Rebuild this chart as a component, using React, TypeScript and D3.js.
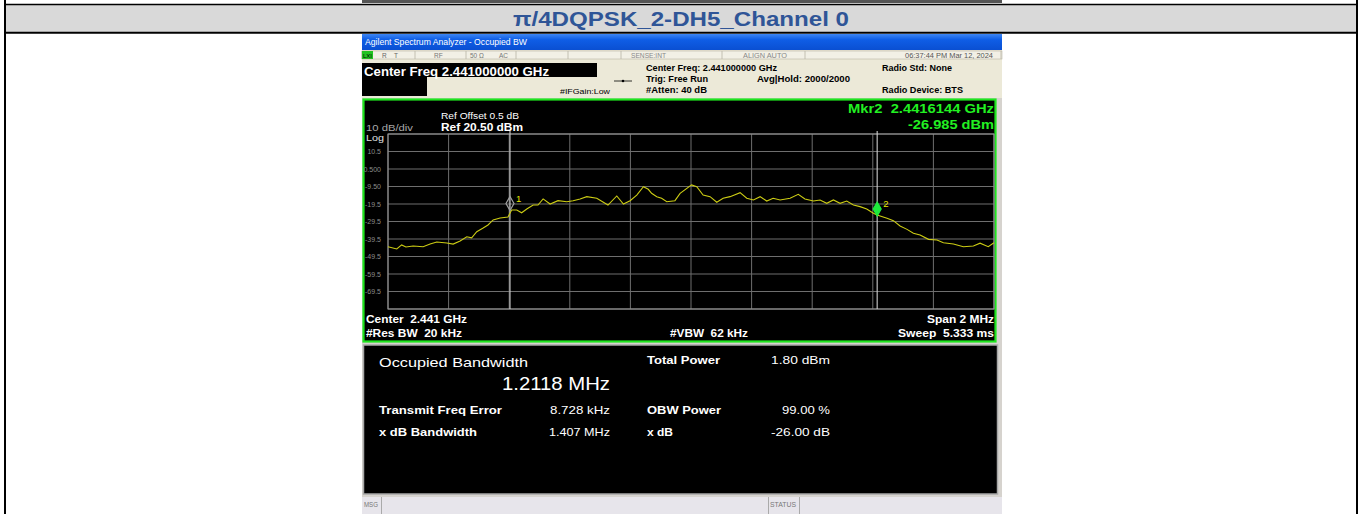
import React, { useEffect } from "react"
import * as d3 from "d3"

// trace: offset from centre (MHz) and level (dBm)
const traceOffsetMHz = [
  -1.0, -0.971, -0.955, -0.941, -0.917, -0.884, -0.861, -0.839, -0.806, -0.785, -0.762, -0.74, -0.724, -0.707,
  -0.686, -0.67, -0.653, -0.63, -0.604, -0.592, -0.575, -0.559, -0.542, -0.521, -0.505, -0.488, -0.465, -0.439,
  -0.41, -0.389, -0.366, -0.344, -0.311, -0.274, -0.245, -0.223, -0.201, -0.179, -0.157, -0.141, -0.13, -0.113,
  -0.097, -0.08, -0.053, -0.036, 0.002, 0.019, 0.04, 0.063, 0.085, 0.106, 0.129, 0.162, 0.184, 0.206, 0.228, 0.25,
  0.271, 0.294, 0.327, 0.354, 0.376, 0.404, 0.426, 0.448, 0.47, 0.492, 0.514, 0.536, 0.558, 0.58, 0.602, 0.614,
  0.647, 0.668, 0.69, 0.713, 0.734, 0.756, 0.784, 0.812, 0.833, 0.866, 0.899, 0.932, 0.954, 0.981, 1.0,
]
const traceLevelDbm = [
  -43.9, -45.2, -42.9, -44.1, -43.5, -43.9, -42.4, -41.2, -41.8, -42.4, -40.6, -38.2, -38.8, -35.3,
  -33.2, -31.5, -28.6, -27.5, -26.9, -22.9, -22.9, -24.5, -22.4, -20.1, -20.1, -16.6, -19.5, -17.6,
  -18.2, -17.6, -16.6, -15.3, -16.2, -20.1, -14.9, -19.5, -17.6, -14.4, -9.6, -11.1, -13.4, -15.3,
  -16.2, -18.2, -17.6, -13.4, -8.6, -9.6, -14.4, -15.3, -18.5, -16.2, -15.3, -13.0, -16.2, -17.2, -15.3, -17.8,
  -16.2, -17.2, -16.2, -14.0, -16.6, -17.8, -17.2, -19.1, -17.2, -19.1, -17.8, -20.1, -21.0, -22.4, -24.8, -25.8,
  -27.7, -29.0, -32.1, -34.0, -36.2, -37.2, -39.7, -40.1, -41.6, -42.4, -43.9, -43.5, -41.9, -43.9, -41.6,
]

const yTickValues = [10.5, 0.5, -9.5, -19.5, -29.5, -39.5, -49.5, -59.5, -69.5]
const yTickLabels = ["10.5", "0.500", "-9.50", "-19.5", "-29.5", "-39.5", "-49.5", "-59.5", "-69.5"]

const markerNames = ["1", "2"]
const markerOffsetMHz = [-0.5974, 0.6144]
const markerLevelDbm = [-23.8, -26.985]

const refLevel = 20.5
const dbPerDiv = 10

type Txt = {
  t: string
  x: number
  y: number
  size: number
  fill: string
  weight?: number | string
  anchor?: "start" | "end" | "middle"
  w?: number
}

const T = ({ t, x, y, size, fill, weight = "normal", anchor = "start", w }: Txt) => (
  <text
    x={x}
    y={y}
    fontSize={size}
    fill={fill}
    fontWeight={weight}
    textAnchor={anchor}
    fontFamily="'Liberation Sans', Arial, sans-serif"
    style={{ whiteSpace: "pre" }}
    {...(w ? { textLength: w, lengthAdjust: "spacingAndGlyphs" } : {})}
  >
    {t}
  </text>
)

const App: React.FC = () => {
  useEffect(() => {
    document.body.style.margin = "0"
    document.body.style.overflow = "hidden"
  }, [])

  // graticule
  const x = d3.scaleLinear().domain([-1, 1]).range([388, 994])
  const y = d3
    .scaleLinear()
    .domain([refLevel - dbPerDiv * 10, refLevel])
    .range([309, 134])

  const xGrid = x.ticks(10)
  const yGrid = d3.range(0, 11).map((i) => refLevel - i * dbPerDiv)

  const line = d3
    .line<number>()
    .x((_, i) => x(traceOffsetMHz[i]))
    .y((d) => y(d))

  const statusCells = [362, 415, 466, 516, 568, 621, 722, 805, 1001]

  return (
    <svg width={1362} height={514} style={{ position: "absolute", left: 0, top: 0, background: "#fff" }}>
      <defs>
        <linearGradient id="bluebar" x1="0" y1="0" x2="0" y2="1">
          <stop offset="0" stopColor="#3d86f2" />
          <stop offset="0.35" stopColor="#0f5ee6" />
          <stop offset="1" stopColor="#0a4fd2" />
        </linearGradient>
      </defs>

      {/* table frame */}
      <rect x={362} y={0} width={640} height={3} fill="#555" />
      <rect x={6} y={5} width={1350} height={27} fill="#d9d9d9" />
      <line x1={5} x2={1357} y1={4.5} y2={4.5} stroke="#000" strokeWidth={1.5} />
      <line x1={5} x2={1357} y1={32.8} y2={32.8} stroke="#000" strokeWidth={2} />
      <line x1={5} x2={5} y1={0} y2={514} stroke="#000" strokeWidth={2} />
      <line x1={1357} x2={1357} y1={0} y2={514} stroke="#000" strokeWidth={2} />
      <T t="π/4DQPSK_2-DH5_Channel 0" x={681} y={26} size={21} fill="#2f5597" weight="bold" anchor="middle" w={336} />

      {/* analyzer screenshot */}
      <rect x={362} y={34} width={640} height={480} fill="#d6d3ce" />
      <rect x={362} y={34} width={640} height={16} fill="url(#bluebar)" />
      <T t="Agilent Spectrum Analyzer - Occupied BW" x={365} y={45} size={8.5} fill="#fff" w={162} />

      <rect x={362} y={50} width={640} height={48} fill="#ece9d8" />
      <rect x={362} y={51} width={640} height={8} fill="#f2f0e6" stroke="#b8b4a4" strokeWidth={0.6} />
      {statusCells.map((cx) => (
        <line key={cx} x1={cx} x2={cx} y1={51} y2={59} stroke="#b8b4a4" strokeWidth={0.8} />
      ))}
      <rect x={362} y={51} width={11} height={8} fill="#22c322" />
      <T t="LXI" x={363} y={58} size={6} fill="#000" w={9} />
      <T t="R" x={382} y={58} size={6.5} fill="#666" />
      <T t="T" x={394} y={58} size={6.5} fill="#666" />
      <T t="RF" x={434} y={58} size={6.5} fill="#777" />
      <T t="50 Ω" x={470} y={58} size={6.5} fill="#777" />
      <T t="AC" x={499} y={58} size={6.5} fill="#777" />
      <T t="SENSE:INT" x={631} y={58} size={6.5} fill="#888" w={35} />
      <T t="ALIGN AUTO" x={743} y={58} size={6.5} fill="#888" w={44} />
      <T t="06:37:44 PM Mar 12, 2024" x={993} y={58} size={6.5} fill="#555" anchor="end" w={88} />

      <rect x={362} y={63} width={235} height={14} fill="#000" />
      <rect x={362} y={77} width={65} height={19} fill="#000" />
      <T t="Center Freq 2.441000000 GHz" x={364} y={75.5} size={12.5} fill="#fff" weight="bold" w={185} />
      <T t="#IFGain:Low" x={560} y={94} size={7.5} fill="#000" w={50} />
      <line x1={614} x2={632} y1={81} y2={81} stroke="#000" strokeWidth={0.8} />
      <circle cx={623} cy={81} r={1.3} fill="#000" />
      <T t="Center Freq: 2.441000000 GHz" x={646} y={71} size={8.5} fill="#000" weight="bold" w={131} />
      <T t="Trig: Free Run" x={646} y={82} size={8.5} fill="#000" weight="bold" w={62} />
      <T t="#Atten: 40 dB" x={646} y={93} size={8.5} fill="#000" weight="bold" w={61} />
      <T t="Avg|Hold: 2000/2000" x={757} y={82} size={8.5} fill="#000" weight="bold" w={93} />
      <T t="Radio Std: None" x={882} y={71} size={8.5} fill="#000" weight="bold" w={70} />
      <T t="Radio Device: BTS" x={882} y={93} size={8.5} fill="#000" weight="bold" w={81} />

      {/* graph window */}
      <rect x={363.5} y={99.5} width={632} height={242} fill="#000" stroke="#1ee61e" strokeWidth={2.2} />
      {yGrid.map((v) => (
        <line key={`h${v}`} x1={388} x2={994} y1={y(v)} y2={y(v)} stroke="#6e6e6e" strokeWidth={1} />
      ))}
      {xGrid.map((v) => (
        <line key={`v${v}`} x1={x(v)} x2={x(v)} y1={134} y2={309} stroke="#6e6e6e" strokeWidth={1} />
      ))}
      <rect x={388} y={134} width={606} height={175} fill="none" stroke="#9a9a9a" strokeWidth={1} />
      {yTickValues.map((v, i) => (
        <T key={v} t={yTickLabels[i]} x={381} y={y(v) + 2.5} size={7} fill="#8c8c8c" anchor="end" />
      ))}
      <T t="10 dB/div" x={366} y={131} size={8.5} fill="#a8a8a8" w={47} />
      <T t="Log" x={366} y={141} size={8.5} fill="#e0e0e0" w={18} />
      <T t="Ref Offset 0.5 dB" x={441} y={118.5} size={8.5} fill="#fff" w={78} />
      <T t="Ref 20.50 dBm" x={441} y={130.5} size={11} fill="#fff" weight="bold" w={82} />
      <T t="Mkr2  2.4416144 GHz" x={994} y={113} size={12.5} fill="#22f022" weight="bold" anchor="end" w={146} />
      <T t="-26.985 dBm" x={994} y={128.5} size={12.5} fill="#22f022" weight="bold" anchor="end" w={86} />

      {/* marker lines */}
      {markerOffsetMHz.map((m) => (
        <line key={m} x1={x(m)} x2={x(m)} y1={131} y2={309} stroke="#cfcfcf" strokeWidth={1.1} />
      ))}

      <path d={line(traceLevelDbm) ?? ""} fill="none" stroke="#cccc14" strokeWidth={1.1} />

      {markerOffsetMHz.map((m, i) => {
        const mx = x(m)
        const my = y(markerLevelDbm[i]) - 1
        const d = `M${mx},${my - 14}L${mx + 4},${my - 7}L${mx},${my}L${mx - 4},${my - 7}Z`
        return (
          <g key={markerNames[i]}>
            <path
              d={d}
              fill={i === 1 ? "#1eea3c" : "none"}
              stroke={i === 1 ? "#1eea3c" : "#a0a0a0"}
              strokeWidth={1.2}
            />
            <T t={markerNames[i]} x={mx + 6} y={my - 9} size={9.5} fill="#e8e800" />
          </g>
        )
      })}

      <T t="Center  2.441 GHz" x={366} y={322.5} size={10.5} fill="#fff" weight="bold" w={101} />
      <T t="#Res BW  20 kHz" x={366} y={336.5} size={10.5} fill="#fff" weight="bold" w={96} />
      <T t="#VBW  62 kHz" x={670} y={336.5} size={10.5} fill="#fff" weight="bold" w={78} />
      <T t="Span 2 MHz" x={994} y={322.5} size={10.5} fill="#fff" weight="bold" anchor="end" w={67} />
      <T t="Sweep  5.333 ms" x={994} y={336.5} size={10.5} fill="#fff" weight="bold" anchor="end" w={96} />

      {/* result window */}
      <rect x={363.5} y={345} width={634} height={149} fill="#000" stroke="#a8a8a8" strokeWidth={1.5} />
      <T t="Occupied Bandwidth" x={379} y={367} size={13} fill="#fff" w={149} />
      <T t="1.2118 MHz" x={502} y={390} size={19} fill="#fff" w={108} />
      <T t="Total Power" x={647} y={364} size={11} fill="#fff" weight="bold" w={73} />
      <T t="1.80 dBm" x={830} y={364} size={11} fill="#fff" anchor="end" w={59} />
      <T t="Transmit Freq Error" x={379} y={414} size={11} fill="#fff" weight="bold" w={123} />
      <T t="8.728 kHz" x={610} y={414} size={11} fill="#fff" anchor="end" w={60} />
      <T t="OBW Power" x={647} y={414} size={11} fill="#fff" weight="bold" w={74} />
      <T t="99.00 %" x={830} y={414} size={11} fill="#fff" anchor="end" w={48} />
      <T t="x dB Bandwidth" x={379} y={436} size={11} fill="#fff" weight="bold" w={98} />
      <T t="1.407 MHz" x={610} y={436} size={11} fill="#fff" anchor="end" w={61} />
      <T t="x dB" x={647} y={436} size={11} fill="#fff" weight="bold" w={26} />
      <T t="-26.00 dB" x={830} y={436} size={11} fill="#fff" anchor="end" w={59} />

      {/* status bar */}
      <rect x={362} y={497} width={640} height={17} fill="#e7e5eb" />
      <line x1={381.5} x2={381.5} y1={497} y2={514} stroke="#aaa" />
      <line x1={768.5} x2={768.5} y1={497} y2={514} stroke="#aaa" />
      <line x1={799.5} x2={799.5} y1={497} y2={514} stroke="#aaa" />
      <T t="MSG" x={364} y={507} size={6.5} fill="#777" w={14} />
      <T t="STATUS" x={770} y={507} size={6.5} fill="#777" w={26} />
    </svg>
  )
}

export default App
